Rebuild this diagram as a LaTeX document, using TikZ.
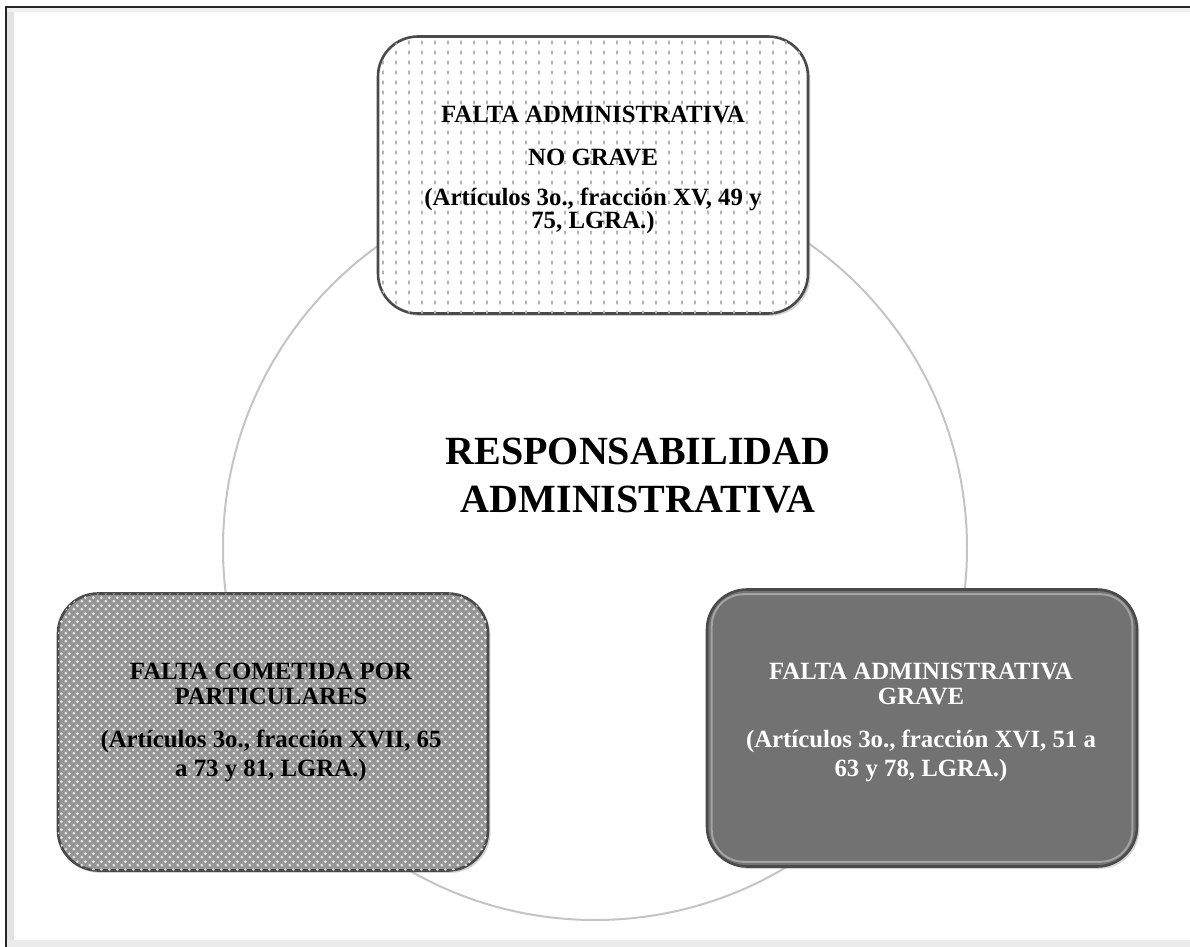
\documentclass[tikz,border=0pt]{standalone}
\usepackage{fontspec}
\setmainfont{Liberation Serif}
\usetikzlibrary{patterns.meta,shadows}

\tikzdeclarepattern{
  name=dashgrid, type=uncolored,
  bounding box={(0pt,0pt) and (6.5pt,5pt)},
  tile size={(6.5pt,5pt)},
  code={\draw[line width=1pt] (3.25pt,1.5pt) -- (3.25pt,3.5pt);}
}
\tikzdeclarepattern{
  name=checkdots, type=uncolored,
  bounding box={(0pt,0pt) and (4pt,4pt)},
  tile size={(4pt,4pt)},
  code={\fill (1pt,1pt) circle (0.85pt); \fill (3pt,3pt) circle (0.85pt);}
}

\definecolor{ringgray}{HTML}{C4C4C4}
\definecolor{dashgray}{HTML}{B4B4B4}
\definecolor{partfill}{HTML}{959595}
\definecolor{gravefill}{HTML}{727272}
\definecolor{edgegray}{HTML}{4A4A4A}

\begin{document}
\begin{tikzpicture}[x=0.5pt, y=-0.5pt,
  frame/.style={draw=black!85, line width=1.2pt},
  ring/.style={draw=ringgray, line width=1pt},
  card/.style={rounded corners=20pt, minimum width=215pt, minimum height=138.5pt,
    draw=edgegray, line width=1.3pt,
    drop shadow={shadow xshift=1.2pt, shadow yshift=-1.2pt, opacity=.35}},
  cardtext/.style={align=center, inner sep=0pt, font=\bfseries\fontsize{12.4}{14.5}\selectfont},
  headline/.style={align=center, inner sep=0pt, font=\bfseries\fontsize{20}{24}\selectfont},
]
  \useasboundingbox (0,0) rectangle (1190,947);
  \fill[black!11] (7,8) rectangle (14,947);
  \fill[black!6] (7,8) rectangle (1190,12);
  \fill[black!8] (6,940) rectangle (1190,947);
  \draw[frame] (6,947) -- (6,7) -- (1190,7);

  \coordinate (hub) at (595,548);
  \draw[ring] (hub) circle[radius=372];

  \node[card, fill=white, postaction={pattern={dashgrid}, pattern color=dashgray}] (nograve) at (593,175) {};
  \node[card, fill=partfill, postaction={pattern={checkdots}, pattern color=white!88!black}] (particulares) at (273,732) {};
  \node[card, fill=gravefill] (grave) at (922,728) {};
  \draw[white!35!gravefill, line width=1pt, rounded corners=16pt] ([shift={(6,-6)}]grave.south west) rectangle ([shift={(-6,6)}]grave.north east);

  \node[cardtext] (nogravetxt) at (593,170) {FALTA ADMINISTRATIVA\\[7pt] NO GRAVE\\[5.5pt] (Artículos 3o., fracción XV, 49 y\\[-3pt] 75, LGRA.)};
  \node[cardtext] (particularestxt) at (271,722) {FALTA COMETIDA POR\\[-2pt] PARTICULARES\\[7pt] (Artículos 3o., fracción XVII, 65\\ a 73 y 81, LGRA.)};
  \node[cardtext, text=white] (gravetxt) at (921,722) {FALTA ADMINISTRATIVA\\[-2pt] GRAVE\\[7pt] (Artículos 3o., fracción XVI, 51 a\\ 63 y 78, LGRA.)};

  \node[headline] (responsabilidad) at (638,476) {RESPONSABILIDAD\\ ADMINISTRATIVA};
\end{tikzpicture}
\end{document}
